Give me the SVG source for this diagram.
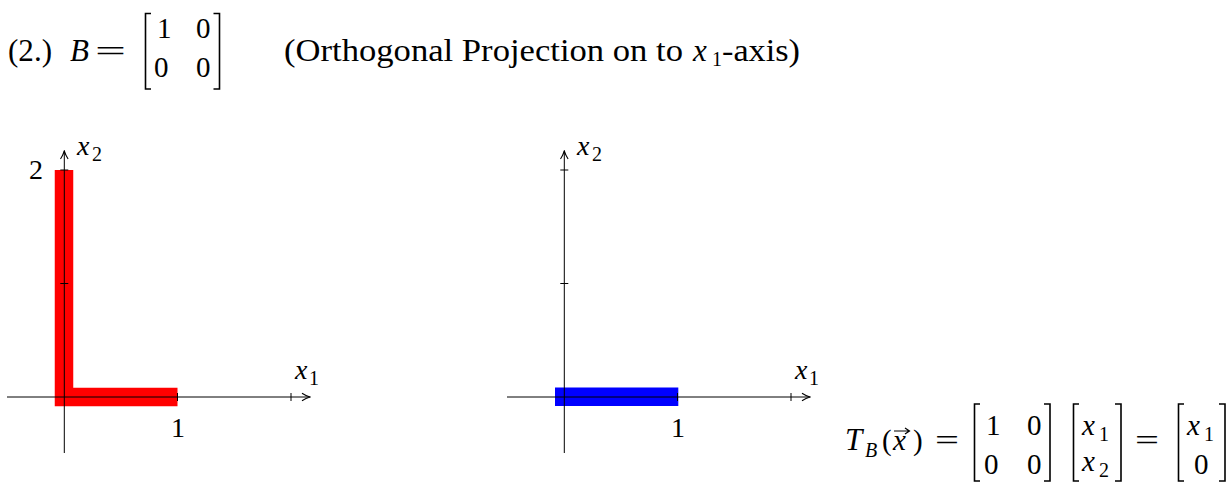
<svg xmlns="http://www.w3.org/2000/svg" width="1229" height="483" viewBox="0 0 1229 483">
<style>
text{font-family:"Liberation Serif",serif;fill:#000;font-size:29px}
.it{font-style:italic}
.sub{font-size:20px}
.lbl{font-size:28px}
.big{font-size:31px}
.ax{stroke:#000;stroke-width:1;fill:none}
.tk{stroke:#000;stroke-width:1;fill:none}
.br{stroke:#000;stroke-width:1.6;fill:none}
</style>
<defs>
<marker id="arr" viewBox="0 0 10 10" refX="9" refY="5" markerWidth="10" markerHeight="10" markerUnits="userSpaceOnUse" orient="auto">
<path d="M1,1.2 Q5,3.8 9,5 Q5,6.2 1,8.8" fill="none" stroke="#000" stroke-width="1.1"/>
</marker>
</defs>

<g id="title">
<text x="8" y="61" class="big" textLength="44" lengthAdjust="spacingAndGlyphs">(2.)</text>
<text x="70" y="61" class="big it">B</text>
<text x="95" y="61" textLength="31" lengthAdjust="spacingAndGlyphs">=</text>
<path class="br" d="M151,13.5 H145.5 V89 H151 M213.5,13.5 H219.5 V89 H213.5"/>
<text x="157" y="38">1</text>
<text x="196" y="38">0</text>
<text x="154" y="77">0</text>
<text x="196" y="77">0</text>
<text x="284" y="61" class="big" textLength="399" lengthAdjust="spacingAndGlyphs">(Orthogonal Projection on to</text>
<text x="693" y="61" class="big it">x</text>
<text x="712" y="66" class="sub">1</text>
<text x="722" y="61" class="big" textLength="78" lengthAdjust="spacingAndGlyphs">-axis)</text>
</g>

<g id="plot-left">
<path d="M64,170 V397 H177.5" fill="none" stroke="#ff0000" stroke-width="18.5" stroke-linejoin="miter" stroke-linecap="butt"/>
</g>
<g id="plot-right">
<rect x="555" y="387.5" width="123.3" height="18.5" fill="#0000ff"/>
</g>

<g id="connectors">
<line class="ax" x1="7" y1="397" x2="310" y2="397" marker-end="url(#arr)"/>
<line class="ax" x1="64.3" y1="453" x2="64.3" y2="151" marker-end="url(#arr)"/>
<path class="tk" d="M177.5,393 V401 M291,393 V401 M60.3,170 H68.3 M60.3,283.5 H68.3"/>
<line class="ax" x1="507" y1="397" x2="810" y2="397" marker-end="url(#arr)"/>
<line class="ax" x1="564.3" y1="453" x2="564.3" y2="151" marker-end="url(#arr)"/>
<path class="tk" d="M677.5,393 V401 M791,393 V401 M560.3,170 H568.3 M560.3,283.5 H568.3"/>
</g>

<g id="labels-left">
<text x="77" y="155" class="lbl it">x</text>
<text x="92" y="161" class="sub">2</text>
<text x="29" y="179" class="lbl">2</text>
<text x="295" y="379" class="lbl it">x</text>
<text x="309" y="385" class="sub">1</text>
<text x="171" y="437" class="lbl">1</text>
</g>
<g id="labels-right">
<text x="577" y="155" class="lbl it">x</text>
<text x="592" y="161" class="sub">2</text>
<text x="795" y="379" class="lbl it">x</text>
<text x="809" y="385" class="sub">1</text>
<text x="671" y="437" class="lbl">1</text>
</g>

<g id="formula">
<text x="845" y="450" class="big it">T</text>
<text x="865" y="457" class="sub it">B</text>
<text x="882" y="450">(</text>
<text x="893" y="450" class="it">x</text>
<path d="M894,431 H909 M905,428 L909.5,431 L905,434" fill="none" stroke="#000" stroke-width="1.2"/>
<text x="913" y="450">)</text>
<text x="935" y="450" textLength="24" lengthAdjust="spacingAndGlyphs">=</text>
<path class="br" d="M980,404 H974.5 V481 H980 M1044,404 H1050 V481 H1044"/>
<text x="986" y="435">1</text>
<text x="1027" y="435">0</text>
<text x="984" y="474">0</text>
<text x="1027" y="474">0</text>
<path class="br" d="M1079,404 H1073.5 V481 H1079 M1115,404 H1121 V481 H1115"/>
<text x="1082" y="435" class="it">x</text>
<text x="1099" y="441" class="sub">1</text>
<text x="1082" y="471" class="it">x</text>
<text x="1099" y="477" class="sub">2</text>
<text x="1135" y="450" textLength="24" lengthAdjust="spacingAndGlyphs">=</text>
<path class="br" d="M1184,404 H1178.5 V481 H1184 M1219,404 H1225 V481 H1219"/>
<text x="1187" y="435" class="it">x</text>
<text x="1204" y="441" class="sub">1</text>
<text x="1194" y="474">0</text>
</g>
</svg>
